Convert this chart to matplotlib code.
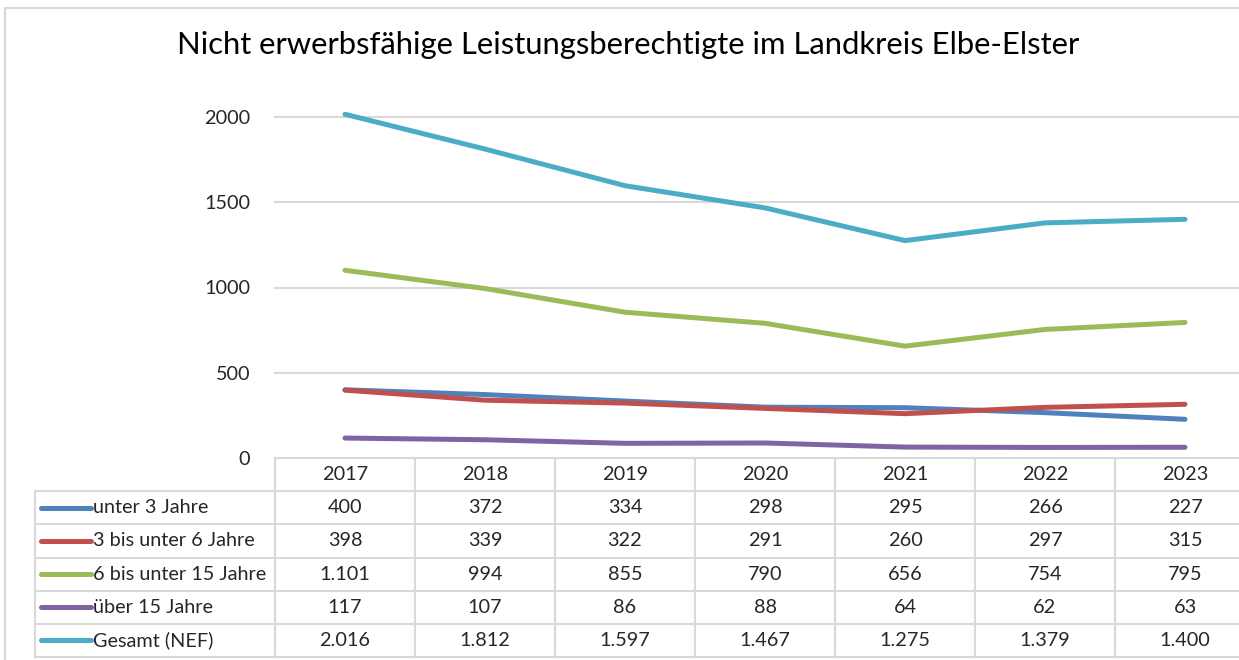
import matplotlib.pyplot as plt
from matplotlib.lines import Line2D
from matplotlib.patches import Rectangle

# Daten
years = ['2017', '2018', '2019', '2020', '2021', '2022', '2023']
series_names = ['unter 3 Jahre', '3 bis unter 6 Jahre', '6 bis unter 15 Jahre',
                'über 15 Jahre', 'Gesamt (NEF)']
unter_3 = [400, 372, 334, 298, 295, 266, 227]
von_3_bis_6 = [398, 339, 322, 291, 260, 297, 315]
von_6_bis_15 = [1101, 994, 855, 790, 656, 754, 795]
ueber_15 = [117, 107, 86, 88, 64, 62, 63]
gesamt = [2016, 1812, 1597, 1467, 1275, 1379, 1400]
y_ticks = [0, 500, 1000, 1500, 2000]
title = 'Nicht erwerbsfähige Leistungsberechtigte im Landkreis Elbe-Elster'

colors = ['#4F81BD', '#C0504D', '#9BBB59', '#8064A2', '#4BACC6']
grid_col = '#d9d9d9'
text_col = '#262626'
fs = 14.3

plt.rcParams['font.family'] = ['Lato', 'DejaVu Sans']

W, H = 1239, 660
fig = plt.figure(figsize=(W / 100, H / 100), dpi=100)

# aeusserer Rahmen
fig.patches.append(Rectangle((5 / W, -0.05), 1.1, (H - 8) / H + 0.05,
                             transform=fig.transFigure, fill=False,
                             edgecolor=grid_col, linewidth=1.5))

fig.text(628 / W, 1 - 45 / H, title, ha='center', va='center',
         fontsize=22.3, color='black')

# Diagrammbereich
px_left, px_right = 275, 1255
ax = fig.add_axes([px_left / W, 1 - 458 / H, (px_right - px_left) / W, (458 - 117) / H])
x = list(range(len(years)))
all_series = [unter_3, von_3_bis_6, von_6_bis_15, ueber_15, gesamt]
for vals, c in zip(all_series, colors):
    ax.plot(x, vals, color=c, linewidth=3.6, solid_capstyle='round', clip_on=False, zorder=3)

ax.set_xlim(-0.5, 6.5)
ax.set_ylim(0, 2000)
ax.set_yticks(y_ticks)
ax.set_yticklabels([str(t) for t in y_ticks], fontsize=fs, color=text_col)
ax.tick_params(axis='y', length=0, pad=18)
ax.set_xticks([])
for t in y_ticks[1:]:
    ax.axhline(t, color=grid_col, linewidth=1.5, zorder=1, clip_on=False)
for s in ax.spines.values():
    s.set_visible(False)

# Datentabelle
tab = fig.add_axes([px_left / W, 3 / H, (px_right - px_left) / W, 199 / H])
tab.set_xlim(-0.5, 6.5)
tab.set_ylim(6, 0)
tab.axis('off')
x_tab_left = -0.5 - (px_left - 35) / 140
lw = 1.5
# horizontale Linien
tab.plot([-0.5, 6.5], [0, 0], color=grid_col, lw=lw, clip_on=False)
for r in range(1, 7):
    tab.plot([x_tab_left, 6.5], [r, r], color=grid_col, lw=lw, clip_on=False)
# vertikale Linien
tab.plot([x_tab_left, x_tab_left], [1, 6], color=grid_col, lw=lw, clip_on=False)
for i in range(8):
    tab.plot([i - 0.5, i - 0.5], [0, 6], color=grid_col, lw=lw, clip_on=False)

for i, yr in enumerate(years):
    tab.text(i, 0.5, yr, ha='center', va='center', fontsize=fs, color=text_col)


def fmt(v):
    return f'{v:,}'.replace(',', '.')


for r, (name, vals, c) in enumerate(zip(series_names, all_series, colors), start=1):
    tab.add_line(Line2D([x_tab_left + 0.04, x_tab_left + 0.4], [r + 0.5, r + 0.5],
                        color=c, lw=3.6, solid_capstyle='round', clip_on=False))
    tab.text(x_tab_left + 0.415, r + 0.5, name, ha='left', va='center',
             fontsize=fs, color=text_col)
    for i, v in enumerate(vals):
        tab.text(i, r + 0.5, fmt(v), ha='center', va='center', fontsize=fs, color=text_col)

fig.savefig('out.png', dpi=100)
